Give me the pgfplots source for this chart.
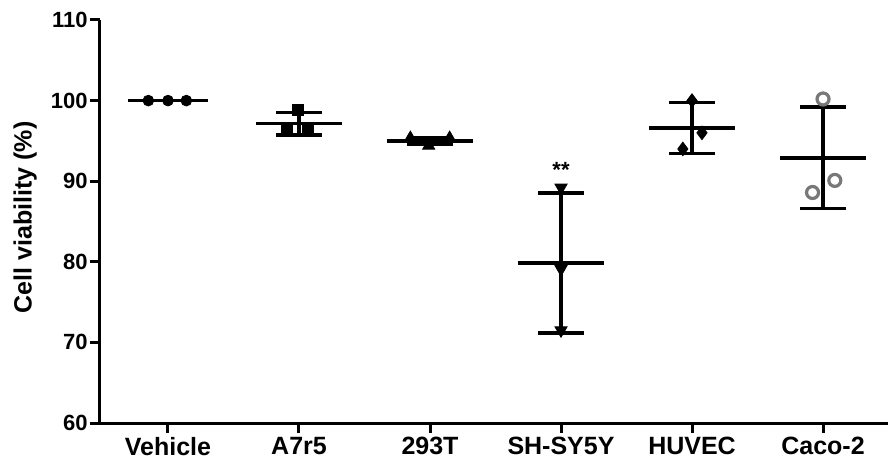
\documentclass[border=0pt]{standalone}
\usepackage{pgfplots}
\pgfplotsset{compat=1.18}
\usepackage{fontspec}
\setmainfont{Liberation Sans}
\definecolor{cacogray}{RGB}{120,120,120}
\begin{document}
\begin{tikzpicture}
\begin{axis}[
  name=ax,
  scale only axis, width=394pt, height=201.5pt,
  xmin=-0.519, xmax=5.496, ymin=60, ymax=110,
  axis x line=bottom, axis y line=left,
  axis line style={-, line width=1.5pt},
  tick align=outside, major tick length=5pt,
  tick style={line width=1.5pt, black},
  xtick={0,1,2,3,4,5},
  xticklabels={Vehicle,A7r5,293T,SH-SY5Y,HUVEC,Caco-2},
  ytick={60,70,80,90,100,110},
  /pgf/number format/assume math mode=true,
  yticklabel style={font=\fontsize{11}{12}\selectfont\bfseries, inner sep=1pt},
  xticklabel style={font=\fontsize{12.5}{14}\selectfont\bfseries, inner sep=2pt},
  ylabel={Cell viability (\%)},
  ylabel style={font=\fontsize{12.5}{14}\selectfont\bfseries, at={(axis description cs:-0.095,0.51)}, anchor=center},
  clip=false,
  meanline/.style={black, line width=1.7pt, mark=none},
  sdbar/.style={black, mark=none, line width=1.7pt,
    error bars/.cd, y dir=both, y explicit, error mark=|,
    error bar style={line width=1.8pt, black},
    error mark options={line width=1.7pt, black, mark size=11.5pt}},
]
% individual points
\addplot[only marks, mark=*, mark size=2.7pt, black] coordinates {(-0.15,100) (0,100) (0.14,100)};
\addplot[only marks, mark=square*, mark size=2.7pt, black] coordinates {(0.99,98.8) (0.91,96.3) (1.07,96.3)};
\addplot[only marks, mark=triangle*, mark size=3.5pt, black] coordinates {(1.85,95.35) (2.15,95.35) (1.99,94.4)};
\addplot[only marks, mark=triangle*, mark size=3.5pt, black, mark options={rotate=180}] coordinates {(3,89.2) (3,79.1) (3,71.5)};
\addplot[only marks, mark=diamond*, mark size=3.4pt, black] coordinates {(4,100.0) (4.076,96.0) (3.93,94.0)};
\addplot[only marks, mark=o, mark size=3pt, cacogray, line width=1.6pt] coordinates {(5.0,100.2) (5.09,90.1) (4.92,88.6)};
% means
\addplot[meanline] coordinates {(-0.305,100) (0.305,100)};
\addplot[meanline] coordinates {(0.67,97.15) (1.33,97.15)};
\addplot[meanline] coordinates {(1.67,95.0) (2.33,95.0)};
\addplot[meanline] coordinates {(2.67,79.85) (3.33,79.85)};
\addplot[meanline] coordinates {(3.67,96.6) (4.33,96.6)};
\addplot[meanline] coordinates {(4.67,92.9) (5.33,92.9)};
% SD bars
\addplot[sdbar] coordinates {(1,97.15) +- (0,1.4)};
\addplot[sdbar] coordinates {(2,95.0) +- (0,0.45)};
\addplot[sdbar] coordinates {(3,79.85) +- (0,8.7)};
\addplot[sdbar] coordinates {(4,96.6) +- (0,3.15)};
\addplot[sdbar] coordinates {(5,92.9) +- (0,6.3)};
\node[font=\fontsize{11}{12}\selectfont\bfseries] at (axis cs:3,91.4) {**};
\end{axis}
\pgfresetboundingbox
\path[use as bounding box] ([shift={(-50pt,-21.5pt)}]ax.south west) rectangle ([shift={(0pt,10pt)}]ax.north east);
\end{tikzpicture}
\end{document}
